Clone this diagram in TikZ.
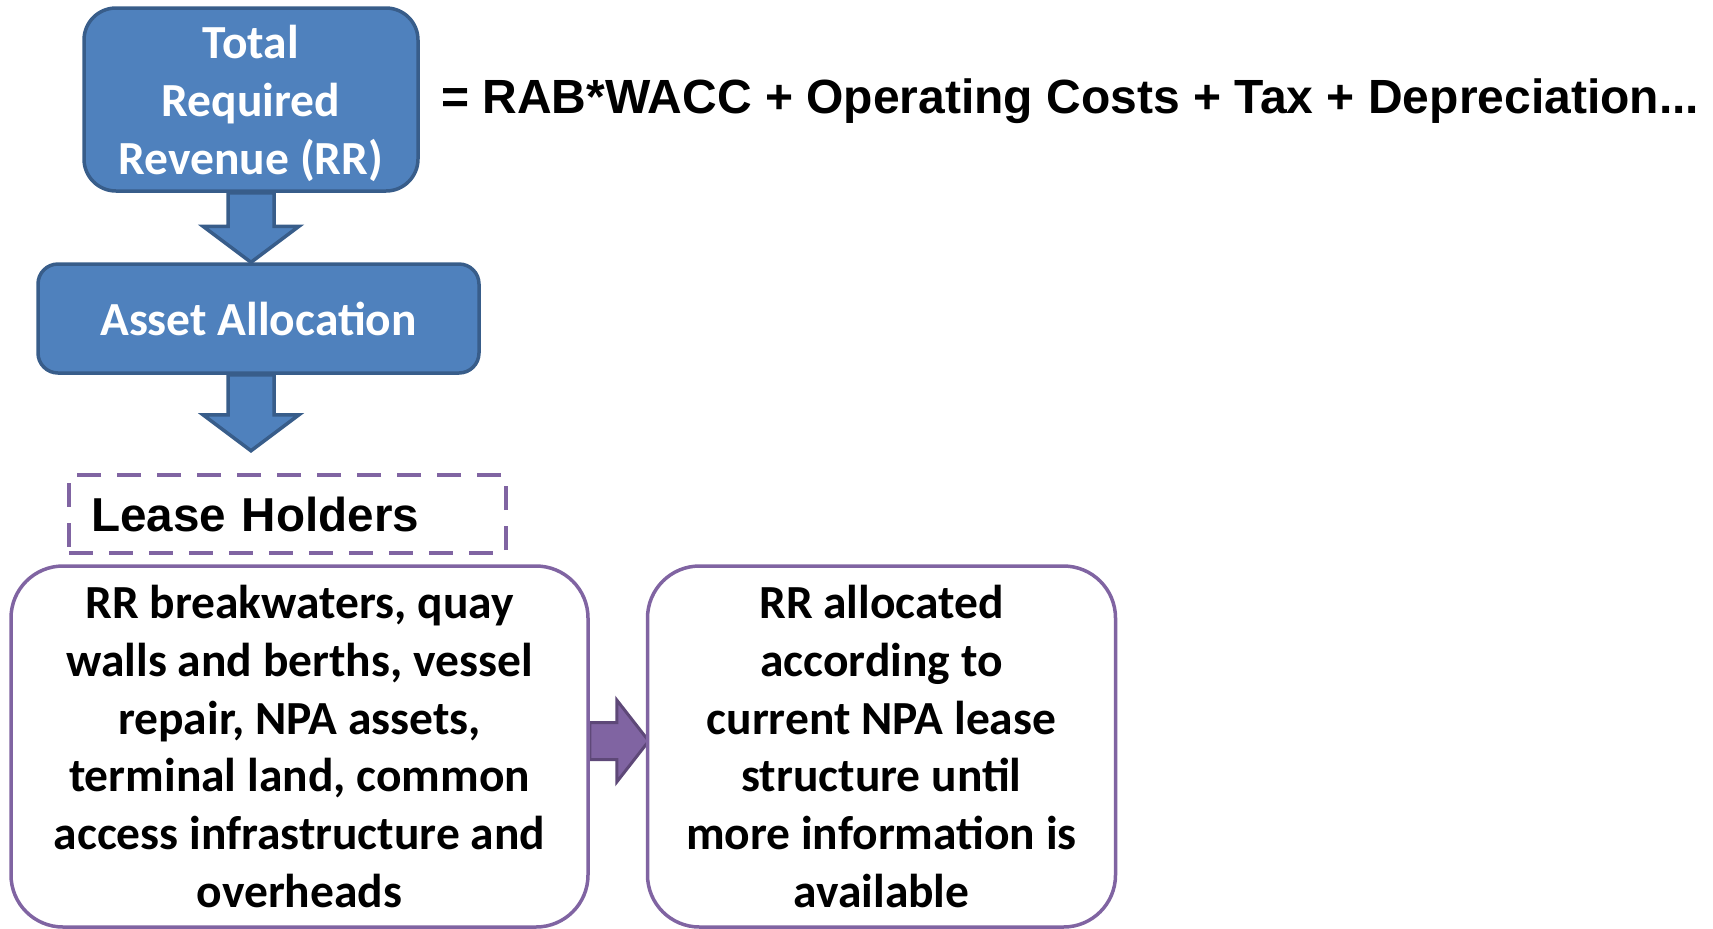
\documentclass[tikz,border=0pt]{standalone}
\usepackage{fontspec}
\setmainfont{Carlito}
\newfontfamily\arialfont{Liberation Sans}
\usepackage{tikz}
\usetikzlibrary{positioning,calc,backgrounds}
\definecolor{boxblue}{RGB}{79,129,189}
\definecolor{edgeblue}{RGB}{56,93,138}
\definecolor{boxpurple}{RGB}{128,100,162}
\definecolor{edgepurple}{RGB}{94,72,120}
\tikzset{
  bigtext/.style={font=\fontsize{23.75pt}{28.85pt}\selectfont\bfseries},
  bloqueazul/.style={rectangle, draw=edgeblue, fill=boxblue, line width=1.75pt,
                     text=white, align=center, bigtext},
  bloquelila/.style={rectangle, draw=boxpurple, line width=1.75pt, fill=white,
                     rounded corners=26pt, align=center, bigtext,
                     minimum height=180.5pt},
  etiqueta/.style={rectangle, draw=boxpurple, line width=2.25pt,
                   dash pattern=on 12pt off 8pt, align=left,
                   font=\arialfont\fontsize{23.8pt}{28pt}\selectfont\bfseries},
  fatarrow/.style n args={3}{to path={
      ($(\tikztostart)!#1!90:(\tikztotarget)$)
      -- ($($(\tikztotarget)!#3!(\tikztostart)$)!#1!90:(\tikztotarget)$)
      -- ($($(\tikztotarget)!#3!(\tikztostart)$)!#2!90:(\tikztotarget)$)
      -- (\tikztotarget)
      -- ($($(\tikztotarget)!#3!(\tikztostart)$)!#2!-90:(\tikztotarget)$)
      -- ($($(\tikztotarget)!#3!(\tikztostart)$)!#1!-90:(\tikztotarget)$)
      -- ($(\tikztostart)!#1!-90:(\tikztotarget)$) -- cycle}},
  flechaazul/.style={fatarrow={11.5pt}{24pt}{18pt}, draw=edgeblue,
                     fill=boxblue, line width=1.75pt},
  flechalila/.style={fatarrow={9.25pt}{20.5pt}{16pt}, draw=edgepurple,
                     fill=boxpurple, line width=1.5pt}
}
\begin{document}
\begin{tikzpicture}[x=0.5pt, y=-0.5pt]
  \useasboundingbox (0,0) rectangle (1713,928);
  \node[bloqueazul, minimum width=167pt, minimum height=91.5pt,
        rounded corners=16pt] (rr) at (251,99.5)
        {\rule{0pt}{20.6pt}Total\\Required\\Revenue (RR)};
  \node[anchor=base west, font=\arialfont\fontsize{24pt}{28pt}\selectfont\bfseries]
        (formula) at (434,113) {= RAB*WACC + Operating Costs + Tax + Depreciation...};
  \node[bloqueazul, minimum width=220.5pt, minimum height=54.5pt,
        rounded corners=10pt] (asset) at (258.5,318.5) {Asset Allocation};
  \node[etiqueta, text width=196.5pt, inner xsep=11pt, minimum height=39pt]
        (lease) at (287.5,514) {Lease Holders};
  \node[bloquelila, minimum width=288.5pt] (lhs) at (299.5,746.5)
        {RR breakwaters, quay\\walls and berths, vessel\\repair, NPA assets,\\terminal land, common\\access infrastructure and\\overheads};
  \node[bloquelila, minimum width=234pt, right=28pt of lhs] (rhs)
        {RR allocated\\according to\\current NPA lease\\structure until\\more information is\\available};

  \coordinate (tip1) at (asset.north -| rr.south);
  \coordinate (neck2) at (asset.south -| rr.south);
  \coordinate (tip2) at ($(neck2)+(0,-38pt)$);
  \begin{scope}[on background layer]
    \draw[flechaazul] (rr.south) to (tip1);
    \draw[flechaazul] (neck2) to (tip2);
    \draw[flechalila] ([yshift=2.75pt]lhs.east) to ([xshift=1.5pt,yshift=2.75pt]rhs.west);
  \end{scope}
\end{tikzpicture}
\end{document}
